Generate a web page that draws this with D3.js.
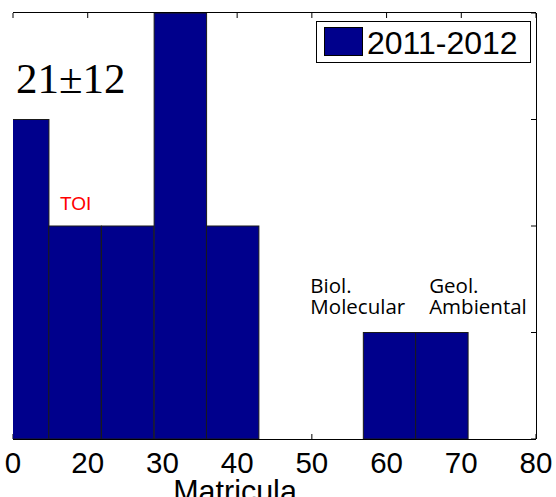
<!DOCTYPE html>
<html><head><meta charset="utf-8">
<script src="https://cdn.jsdelivr.net/npm/d3@7"></script>
<style>body{margin:0;background:#fff}svg{display:block}</style>
</head><body>
<script>
// ---- data ----
const binCenters = [1.3, 8.3, 15.35, 22.4, 29.4, 36.4, 43.4, 50.4, 57.4];
const binWidth = 7.02;
const counts = [3, 2, 2, 4, 2, 0, 0, 1, 1];
const xTickValues = [0, 10, 20, 30, 40, 50, 60, 70];
const xTickLabels = ["0", "20", "30", "40", "50", "60", "70", "80"];
const yTickValues = [0, 1, 2, 3, 4];
const seriesName = "2011-2012";
const xTitle = "Matricula";
const statText = "21\u00b112";
const annotations = [
  {lines: ["TOI"], x: 6.3, y: 2.15, color: "#ff0000", font: "Arial, 'Liberation Sans', sans-serif", size: 19},
  {lines: ["Biol.", "Molecular"], x: 39.8, y: 1.37, color: "#000", font: "'Open Sans', sans-serif", size: 20.5},
  {lines: ["Geol.", "Ambiental"], x: 55.7, y: 1.37, color: "#000", font: "'Open Sans', sans-serif", size: 20.5}
];

const W = 556, H = 497;
const L = 13, R = 536, T = 13, B = 439;
const barColor = "#00008c";

const svg = d3.select("body").append("svg").attr("width", W).attr("height", H);
const x = d3.scaleLinear().domain([0, 70]).range([L, R]);
const y = d3.scaleLinear().domain([0, 4]).range([B, T]);

// ticks (drawn beneath bars, inward)
const tickLen = 5;
const g = svg.append("g");
g.selectAll(".bt").data(xTickValues).join("line")
  .attr("x1", d => x(d)).attr("x2", d => x(d)).attr("y1", B).attr("y2", B - tickLen)
  .attr("stroke", "#000");
g.selectAll(".tt").data(xTickValues).join("line")
  .attr("x1", d => x(d)).attr("x2", d => x(d)).attr("y1", T).attr("y2", T + tickLen)
  .attr("stroke", "#000");
g.selectAll(".rt").data(yTickValues).join("line")
  .attr("x1", R).attr("x2", R - tickLen).attr("y1", d => y(d)).attr("y2", d => y(d))
  .attr("stroke", "#000");

// bars, clipped to plot area
svg.append("clipPath").attr("id", "clip").append("rect")
  .attr("x", L).attr("y", T).attr("width", R - L).attr("height", B - T);
svg.append("g").attr("clip-path", "url(#clip)")
  .selectAll("rect").data(binCenters.map((c, i) => ({c, n: counts[i]})).filter(d => d.n > 0))
  .join("rect")
  .attr("x", d => x(d.c - binWidth / 2))
  .attr("width", d => x(d.c + binWidth / 2) - x(d.c - binWidth / 2))
  .attr("y", d => y(d.n))
  .attr("height", d => B - y(d.n))
  .attr("fill", barColor)
  .attr("stroke", "#1a1a1a")
  .attr("stroke-width", 1);

// axis lines
svg.append("line").attr("x1", L).attr("x2", R).attr("y1", B + 0.5).attr("y2", B + 0.5).attr("stroke", "#000");
svg.append("line").attr("x1", L).attr("x2", R).attr("y1", T - 0.5).attr("y2", T - 0.5).attr("stroke", "#000");
svg.append("line").attr("x1", R + 0.5).attr("x2", R + 0.5).attr("y1", T).attr("y2", B).attr("stroke", "#000");

// x tick labels
svg.selectAll(".xl").data(xTickValues).join("text")
  .attr("x", d => x(d)).attr("y", 473)
  .attr("text-anchor", "middle")
  .attr("font-family", "Arial, 'Liberation Sans', sans-serif")
  .attr("font-size", 29.5)
  .text((d, i) => xTickLabels[i]);

// x title
svg.append("text").attr("x", 235).attr("y", 502)
  .attr("text-anchor", "middle")
  .attr("font-family", "Arial, 'Liberation Sans', sans-serif")
  .attr("font-size", 30.5).text(xTitle);

// stat text
svg.append("text").attr("x", 16).attr("y", 93)
  .attr("font-family", "'Liberation Serif', 'Times New Roman', serif")
  .attr("font-size", 43).text(statText);

// annotations
annotations.forEach(a => {
  const t = svg.append("text").attr("x", x(a.x)).attr("y", y(a.y))
    .attr("fill", a.color).attr("font-family", a.font).attr("font-size", a.size);
  a.lines.forEach((ln, i) => {
    t.append("tspan").attr("x", x(a.x)).attr("dy", i === 0 ? 0 : 21).text(ln);
  });
});

// legend
const lg = svg.append("g");
lg.append("rect").attr("x", 316.5).attr("y", 21.5).attr("width", 214).attr("height", 41)
  .attr("fill", "#fff").attr("stroke", "#000");
lg.append("rect").attr("x", 324.5).attr("y", 27.5).attr("width", 38).attr("height", 28)
  .attr("fill", barColor).attr("stroke", "#000");
lg.append("text").attr("x", 367).attr("y", 54)
  .attr("font-family", "Arial, 'Liberation Sans', sans-serif")
  .attr("font-size", 32).text(seriesName);
</script>
</body></html>
